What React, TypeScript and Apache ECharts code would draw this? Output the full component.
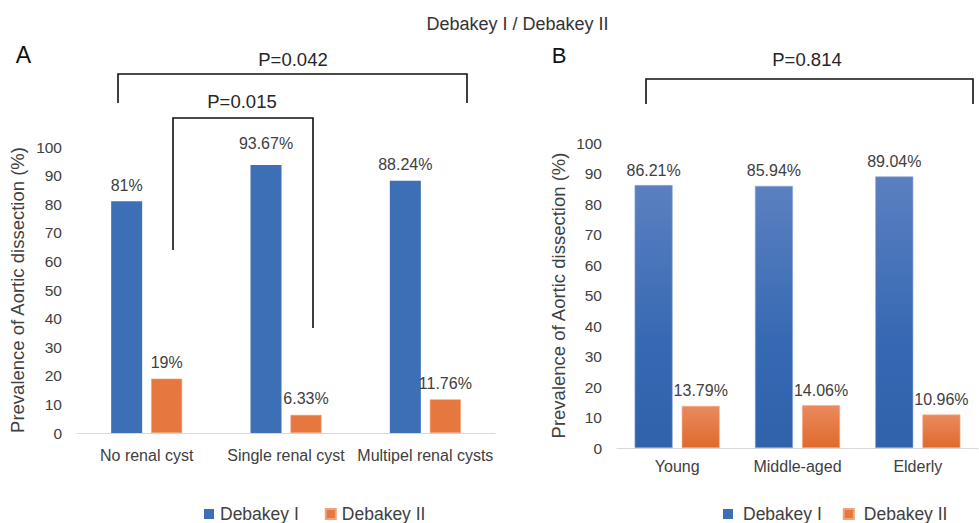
import React, { useEffect, useRef } from "react";
import * as echarts from "echarts";

const categoriesA = ["No renal cyst", "Single renal cyst", "Multipel renal cysts"];
const debakeyI_A = [81, 93.67, 88.24];
const debakeyII_A = [19, 6.33, 11.76];

const categoriesB = ["Young", "Middle-aged", "Elderly"];
const debakeyI_B = [86.21, 85.94, 89.04];
const debakeyII_B = [13.79, 14.06, 10.96];

const yTicks = { min: 0, max: 100, interval: 10 };
const seriesNames = ["Debakey I", "Debakey II"];
const chartTitle = "Debakey I / Debakey II";
const pValues = ["P=0.042", "P=0.015", "P=0.814"];

const FONT = "Liberation Sans, Arial, Helvetica, sans-serif";
const TXT = "#404040";
const BLUE = "#3d6fb7";
const ORANGE = "#e5773f";

export default function App() {
  const ref = useRef<HTMLDivElement>(null);
  useEffect(() => {
    if (!ref.current) return;
    const chart = echarts.init(ref.current, null, { renderer: "svg" });

    const labelFmt = (p: any) => `${p.value}%`;
    const baseLabel = {
      show: true,
      position: "top",
      distance: 8,
      color: TXT,
      fontSize: 16,
      fontFamily: FONT,
      formatter: labelFmt,
    };

    const yAxisCommon = (gridIndex: number, nameGap: number) => ({
      type: "value",
      gridIndex,
      min: yTicks.min,
      max: yTicks.max,
      interval: yTicks.interval,
      name: "Prevalence of Aortic dissection (%)",
      nameLocation: "middle",
      nameGap,
      nameRotate: 90,
      nameTextStyle: { color: TXT, fontSize: 18.5, fontFamily: FONT },
      axisLine: { show: false },
      axisTick: { show: false },
      splitLine: { show: false },
      axisLabel: { color: TXT, fontSize: 15.5, fontFamily: FONT, margin: 15 },
    });

    const xAxisCommon = (gridIndex: number, data: string[], margin: number) => ({
      type: "category",
      gridIndex,
      data,
      axisLine: { show: true, lineStyle: { color: "#d9d9d9", width: 1 } },
      axisTick: { show: false },
      axisLabel: { color: TXT, fontSize: 16, fontFamily: FONT, margin, interval: 0 },
    });

    const gradBlue = new echarts.graphic.LinearGradient(0, 0, 0, 1, [
      { offset: 0, color: "#5b80c0" },
      { offset: 0.6, color: "#3669b3" },
      { offset: 1, color: "#2f62ab" },
    ]);
    const gradOrange = new echarts.graphic.LinearGradient(0, 0, 0, 1, [
      { offset: 0, color: "#ea8a5e" },
      { offset: 1, color: "#df6a2d" },
    ]);

    const dataA1 = debakeyI_A.map((v, i) =>
      i === 1 ? { value: v, label: { distance: 14 } } : { value: v }
    );

    const line = (points: number[][]) => ({
      type: "polyline",
      shape: { points },
      style: { stroke: "#111", lineWidth: 1.6, fill: null },
      silent: true,
    });
    const txt = (text: string, x: number, y: number, fontSize: number, color = "#262626") => ({
      type: "text",
      x,
      y,
      style: {
        text,
        fontSize,
        fontFamily: FONT,
        fill: color,
        align: "center",
        verticalAlign: "middle",
      },
      silent: true,
    });

    chart.setOption({
      animation: false,
      backgroundColor: "#ffffff",
      grid: [
        { left: 77, top: 147, width: 418, height: 286, containLabel: false },
        { left: 617, top: 143, width: 361, height: 305, containLabel: false },
      ],
      legend: [
        {
          data: seriesNames,
          left: 199,
          top: 500,
          itemWidth: 10,
          itemHeight: 10,
          itemGap: 26,
          icon: "rect",
          textStyle: { color: TXT, fontSize: 17.5, fontFamily: FONT, padding: [0, 0, 0, 1] },
        },
        {
          data: seriesNames,
          left: 718,
          top: 500,
          itemWidth: 10,
          itemHeight: 10,
          itemGap: 21,
          icon: "rect",
          textStyle: { color: TXT, fontSize: 17.5, fontFamily: FONT, padding: [0, 0, 0, 5] },
        },
      ],
      xAxis: [xAxisCommon(0, categoriesA, 14), xAxisCommon(1, categoriesB, 10)],
      yAxis: [yAxisCommon(0, 50), yAxisCommon(1, 49)],
      series: [
        {
          name: seriesNames[0],
          type: "bar",
          xAxisIndex: 0,
          yAxisIndex: 0,
          data: dataA1,
          barWidth: 31,
          barGap: "29%",
          itemStyle: { color: BLUE },
          label: baseLabel,
        },
        {
          name: seriesNames[1],
          type: "bar",
          xAxisIndex: 0,
          yAxisIndex: 0,
          data: debakeyII_A,
          barWidth: 31,
          barGap: "29%",
          itemStyle: { color: ORANGE, borderColor: "#f2a27a", borderWidth: 0.6 },
          label: baseLabel,
        },
        {
          name: seriesNames[0],
          type: "bar",
          xAxisIndex: 1,
          yAxisIndex: 1,
          data: debakeyI_B,
          barWidth: 38,
          barGap: "24%",
          itemStyle: { color: gradBlue, borderColor: "#8fa9d6", borderWidth: 0.6 },
          label: { ...baseLabel, distance: 7 },
        },
        {
          name: seriesNames[1],
          type: "bar",
          xAxisIndex: 1,
          yAxisIndex: 1,
          data: debakeyII_B,
          barWidth: 38,
          barGap: "24%",
          itemStyle: { color: gradOrange, borderColor: "#f4b08e", borderWidth: 0.6 },
          label: { ...baseLabel, distance: 7 },
        },
      ],
      graphic: [
        txt(chartTitle, 517.5, 24, 18, "#333"),
        txt("A", 23.5, 55, 23, "#111"),
        txt("B", 559, 55.5, 22, "#111"),
        txt(pValues[0], 293, 59, 18.5),
        txt(pValues[1], 242, 101, 18.5),
        txt(pValues[2], 807, 59, 18.5),
        line([[118, 103], [118, 74], [467, 74], [467, 103]]),
        line([[173, 250], [173, 118], [313, 118], [313, 328]]),
        line([[646, 104], [646, 79], [973, 79], [973, 104]]),
      ],
    });

    return () => chart.dispose();
  }, []);

  return (
    <div
      ref={ref}
      style={{ position: "absolute", left: 0, top: 0, width: 979, height: 523 }}
    />
  );
}
